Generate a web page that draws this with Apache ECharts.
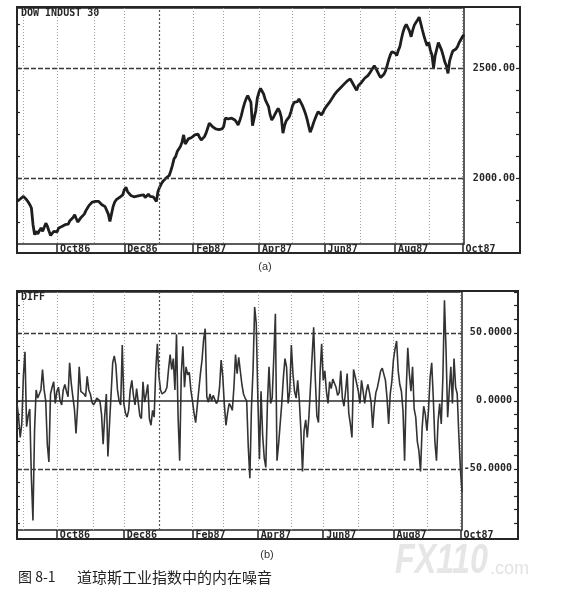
<!DOCTYPE html>
<html><head><meta charset="utf-8">
<script src="https://cdn.jsdelivr.net/npm/echarts@6/dist/echarts.min.js"></script>
<style>html,body{margin:0;padding:0;background:#fff}#c{width:561px;height:600px}</style>
</head><body><div id="c"></div>
<script>
// trading-day months covered by the chart
const monthLabels = ['Aug86','Sep86','Oct86','Nov86','Dec86','Jan87','Feb87','Mar87','Apr87','May87','Jun87','Jul87','Aug87','Sep87','Oct87'];
const monthDays   = [4,21,23,19,22,21,19,22,21,20,22,22,21,21,2];
const labeledMonths = ['Oct86','Dec86','Feb87','Apr87','Jun87','Aug87','Oct87'];

// panel (a): DOW INDUST 30 daily values
const dow = [
1894,1897,1905,1912,1917,1909,1902,1891,1879,1864,
1788,1742,1758,1746,1761,1773,1758,1776,1795,1780,
1758,1739,1746,1758,1764,1755,1773,1770,1780,1776,
1788,1795,1791,1806,1803,1821,1833,1815,1800,1811,
1821,1830,1836,1852,1864,1876,1885,1891,1882,1894,
1885,1894,1888,1879,1882,1870,1861,1836,1803,1811,
1871,1891,1902,1906,1912,1917,1924,1947,1958,1939,
1932,1921,1927,1915,1924,1918,1909,1921,1917,1924,
1912,1921,1927,1917,1924,1915,1906,1894,1939,1958,
1973,1985,1992,2000,2008,2012,2033,2058,2088,2098,
2121,2124,2144,2164,2197,2155,2167,2179,2170,2185,
2189,2197,2206,2200,2185,2174,2179,2189,2205,2227,
2250,2242,2235,2230,2224,2230,2221,2215,2224,2235,
2273,2280,2270,2265,2273,2279,2265,2255,2242,2261,
2285,2315,2341,2361,2376,2367,2345,2239,2273,2306,
2364,2391,2409,2417,2382,2356,2348,2326,2288,2265,
2276,2291,2285,2318,2303,2276,2205,2239,2261,2255,
2280,2303,2330,2345,2336,2348,2361,2356,2333,2315,
2295,2270,2239,2209,2227,2250,2270,2288,2303,2294,
2288,2300,2315,2326,2333,2345,2356,2367,2379,2388,
2397,2406,2412,2418,2427,2436,2442,2445,2452,2439,
2430,2412,2400,2421,2430,2436,2445,2455,2458,2467,
2477,2485,2500,2512,2500,2485,2470,2458,2452,2473,
2488,2512,2539,2561,2576,2585,2570,2558,2582,2600,
2636,2667,2688,2700,2685,2670,2644,2674,2697,2709,
2720,2733,2705,2676,2648,2624,2603,2618,2583,2561,
2503,2558,2588,2618,2609,2583,2558,2530,2512,2477,
2533,2558,2579,2573,2588,2600,2618,2630,2644,2654
];

// panel (b): DIFF daily values
const diff = [
-2,-12,-27,-17,18,36,-19,-11,-6,-56,
-88,-22,8,2,3,8,23,8,0,-32,
-45,5,10,14,-2,7,10,0,-3,8,
12,7,3,28,13,3,-6,-24,-4,25,
7,8,5,3,18,8,5,-1,-3,-1,
2,2,0,-10,-32,-11,5,-41,-17,5,
28,33,26,8,0,-3,41,-2,-9,-12,
-7,8,15,4,-3,9,-1,-11,-13,14,
-1,5,12,-13,-18,-7,-12,23,42,18,
8,5,5,7,10,23,34,23,31,8,
49,-12,-44,20,40,10,25,19,21,8,
0,-9,-16,-17,8,20,30,45,53,3,
-1,5,0,4,3,-2,0,10,30,18,
-3,-18,-9,-2,-4,-7,10,34,20,32,
31,12,5,2,0,-34,-57,-5,23,69,
57,2,-43,7,-25,-42,-49,-2,25,-2,
2,32,64,-44,-32,-17,-2,17,31,25,
-2,7,41,20,7,2,15,0,-22,-52,
-22,-14,-27,-12,10,32,54,17,-11,-16,
20,42,15,22,7,-2,14,9,16,15,
10,4,6,22,2,-4,7,20,-9,-17,
-27,23,18,17,7,-2,15,7,-2,7,
12,6,-1,-20,-4,6,10,16,22,24,
23,15,2,-17,5,14,30,38,44,22,
12,7,-7,-44,7,39,20,7,25,-6,
-12,-30,-37,-52,-20,-4,-10,-22,-7,17,
28,2,-30,-44,-15,-2,-17,17,74,37,
-12,7,25,-2,31,10,5,-25,-50,-67
];

const dowTicks = [1800,1900,2000,2100,2200,2300,2400,2500,2600,2700];
const dowLabels = [2000,2500];
const diffTicks = [-90,-80,-70,-60,-50,-40,-30,-20,-10,0,10,20,30,40,50,60,70,80];
const diffLabels = [-50,0,50];

// build categories
const categories = [];
const monthStart = {};
monthLabels.forEach((m, k) => {
  monthStart[categories.length] = m;
  for (let d = 1; d <= monthDays[k]; d++) categories.push(m + '-' + d);
});
const startIdx = Object.keys(monthStart).map(Number);
const labelIdx = new Set(startIdx.filter(i => labeledMonths.includes(monthStart[i])));
const gridIdx = new Set(startIdx.filter(i => i > 0 && monthStart[i] !== 'Jan87'));
const janCat = categories[startIdx.find(i => monthStart[i] === 'Jan87')];

const mono = 'DejaVu Sans Mono';
const ink = '#262626';

function xAxisFor(gi) {
  return {
    type: 'category', gridIndex: gi, data: categories, boundaryGap: false, position: 'bottom',
    axisLine: { show: false, onZero: false },
    axisTick: { show: true, length: 9, inside: false, interval: (i) => labelIdx.has(i), lineStyle: { color: ink, width: 1.5 } },
    axisLabel: { show: true, interval: (i) => labelIdx.has(i), formatter: (v) => v.split('-')[0], align: 'left', margin: 0,
      padding: [0, 0, 0, 3], fontFamily: mono, fontWeight: 'bold', fontSize: 10, lineHeight: 10, color: ink },
    splitLine: { show: true, interval: (i) => gridIdx.has(i), lineStyle: { color: '#a0a0a0', type: [1, 2], width: 1 } }
  };
}
function yRight(gi, min, max, ticks, labels, dec, margin) {
  return {
    type: 'value', gridIndex: gi, min: min, max: max, position: 'right', offset: 56,
    axisLine: { show: true, onZero: false, lineStyle: { color: ink, width: 2 } },
    axisTick: { show: true, inside: true, length: 4, customValues: ticks, lineStyle: { color: ink, width: 1.2 } },
    axisLabel: { show: true, inside: true, margin: margin, customValues: labels, formatter: (v) => Number(v).toFixed(dec),
      fontFamily: mono, fontWeight: 'bold', fontSize: 10, color: ink },
    splitLine: { show: false }
  };
}
function yLeft(gi, min, max, ticks) {
  return {
    type: 'value', gridIndex: gi, min: min, max: max, position: 'left',
    axisLine: { show: false, onZero: false },
    axisTick: { show: true, inside: true, length: 3, customValues: ticks, lineStyle: { color: ink, width: 1.2 } },
    axisLabel: { show: false }, splitLine: { show: false }
  };
}

const chart = echarts.init(document.getElementById('c'), null, { renderer: 'canvas' });
chart.setOption({
  animation: false,
  backgroundColor: '#fff',
  grid: [
    { left: 17, top: 8, width: 447, height: 236, show: true, borderColor: ink, borderWidth: 1.5, backgroundColor: 'transparent' },
    { left: 17, top: 292, width: 445, height: 238, show: true, borderColor: ink, borderWidth: 1.5, backgroundColor: 'transparent' }
  ],
  xAxis: [xAxisFor(0), xAxisFor(1)],
  yAxis: [
    yRight(0, 1700, 2775, dowTicks, dowLabels, 2, 5),
    yLeft(0, 1700, 2775, dowTicks),
    yRight(1, -95, 80, diffTicks, diffLabels, 4, 6),
    yLeft(1, -95, 80, diffTicks)
  ],
  series: [
    {
      type: 'line', xAxisIndex: 0, yAxisIndex: 0, data: dow, showSymbol: false, symbol: 'none',
      lineStyle: { color: '#1e1e1e', width: 2.8 },
      markLine: { silent: true, symbol: ['none', 'none'], label: { show: false },
        data: [
          { yAxis: 2000, lineStyle: { color: '#3a3a3a', type: [5, 2], width: 1.3 } },
          { yAxis: 2500, lineStyle: { color: '#3a3a3a', type: [5, 2], width: 1.3 } },
          { xAxis: janCat, lineStyle: { color: '#555', type: [2, 2], width: 1.2 } }
        ] }
    },
    {
      type: 'line', xAxisIndex: 1, yAxisIndex: 2, data: diff, showSymbol: false, symbol: 'none',
      lineStyle: { color: '#333', width: 1.6 },
      markLine: { silent: true, symbol: ['none', 'none'], label: { show: false },
        data: [
          { yAxis: 50, lineStyle: { color: '#3a3a3a', type: [5, 2], width: 1.3 } },
          { yAxis: 0, lineStyle: { color: '#2a2a2a', type: 'solid', width: 1.6 } },
          { yAxis: -50, lineStyle: { color: '#3a3a3a', type: [5, 2], width: 1.3 } },
          { xAxis: janCat, lineStyle: { color: '#555', type: [2, 2], width: 1.2 } }
        ] }
    }
  ],
  graphic: [
    { type: 'rect', shape: { x: 17, y: 7, width: 503, height: 246 }, style: { fill: 'none', stroke: ink, lineWidth: 2 }, silent: true },
    { type: 'rect', shape: { x: 17, y: 291, width: 501, height: 248 }, style: { fill: 'none', stroke: ink, lineWidth: 2 }, silent: true },
    { type: 'text', left: 21, top: 8, style: { text: 'DOW INDUST 30', font: 'bold 10px "DejaVu Sans Mono"', fill: ink } },
    { type: 'text', left: 21, top: 292, style: { text: 'DIFF', font: 'bold 10px "DejaVu Sans Mono"', fill: ink } },
    { type: 'text', x: 265, y: 267, style: { text: '(a)', font: '11px "Liberation Sans"', fill: '#333', align: 'center', verticalAlign: 'middle' } },
    { type: 'text', x: 267, y: 555, style: { text: '(b)', font: '11px "Liberation Sans"', fill: '#333', align: 'center', verticalAlign: 'middle' } },
    { type: 'text', x: 18, y: 577, style: { text: '图 8-1', font: '14px "Noto Sans CJK SC"', fill: '#222', verticalAlign: 'middle' } },
    { type: 'text', x: 77, y: 577, style: { text: '道琼斯工业指数中的内在噪音', font: '15px "Noto Sans CJK SC"', fill: '#222', verticalAlign: 'middle' } },
    { type: 'text', x: 395, y: 561, scaleX: 0.77, z: -1, style: { text: 'FX110', font: 'italic bold 42px "Liberation Sans Narrow", "Liberation Sans"', fill: '#e6e6e6', verticalAlign: 'middle' } },
    { type: 'text', x: 490, y: 569, z: -1, style: { text: '.com', font: '18px "Liberation Sans"', fill: '#e3e3e3', verticalAlign: 'middle' } }
  ]
});
</script></body></html>
